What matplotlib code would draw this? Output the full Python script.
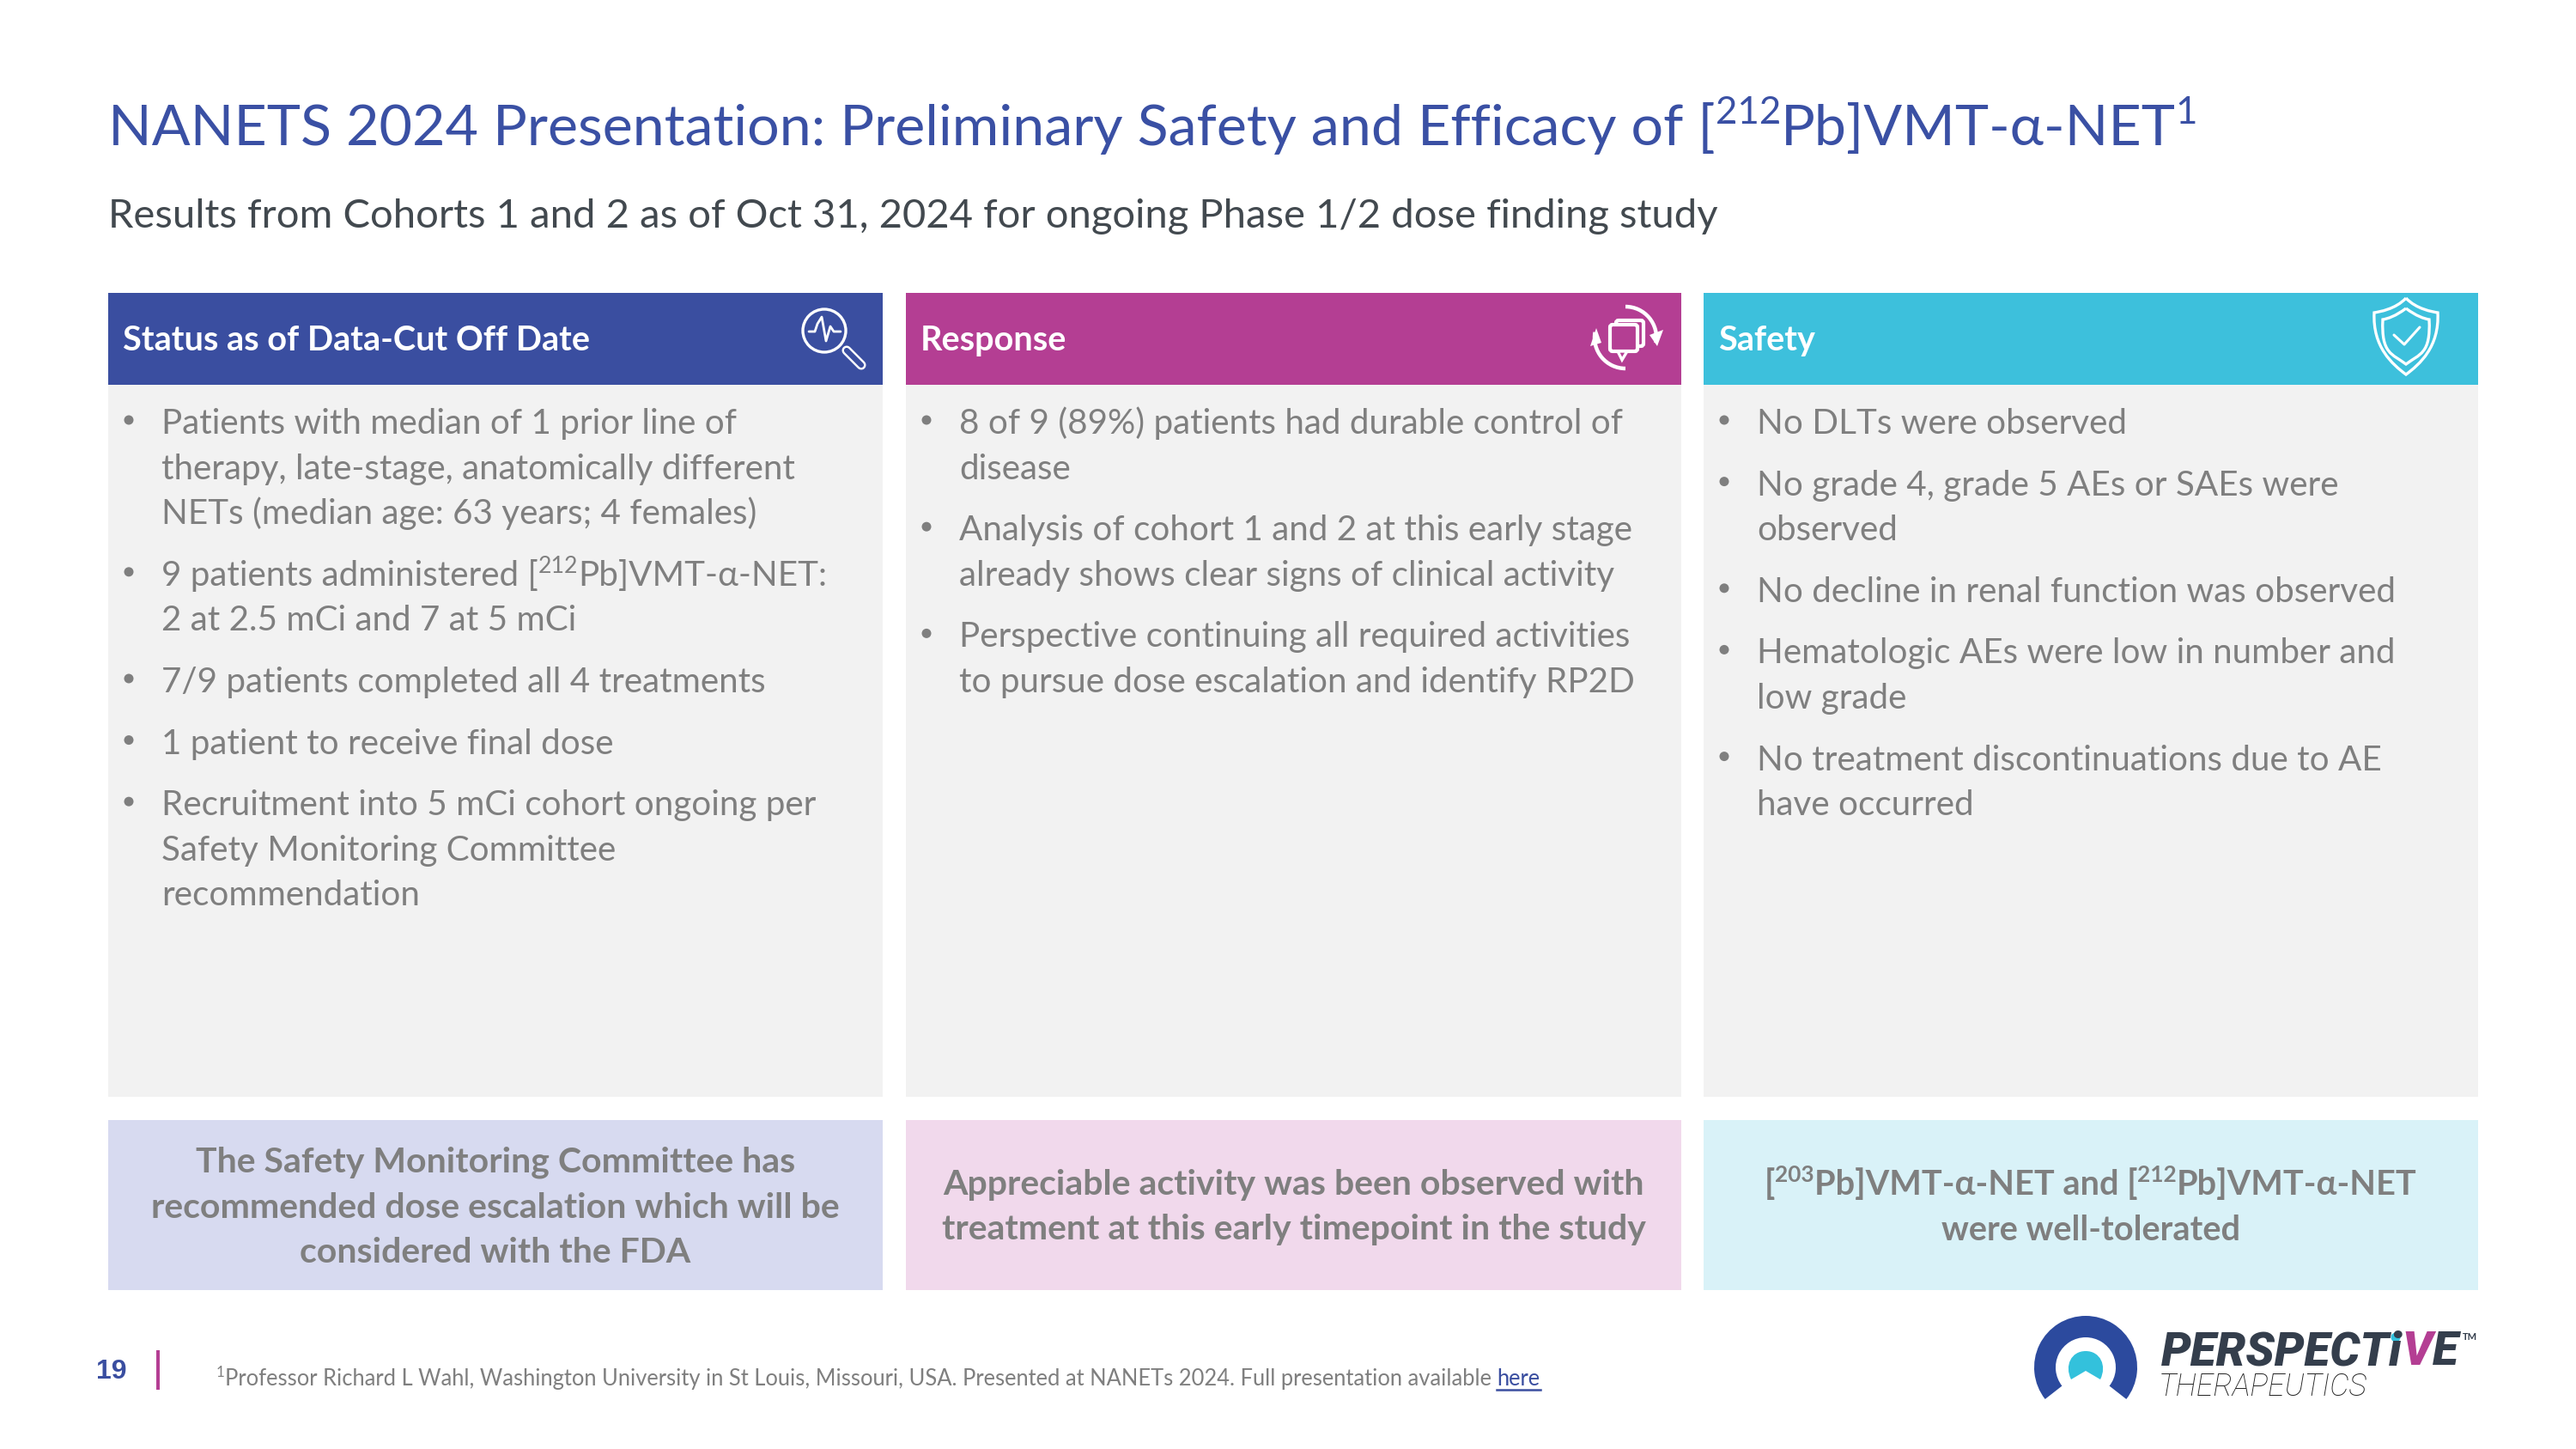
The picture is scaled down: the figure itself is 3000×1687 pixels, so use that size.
import matplotlib
matplotlib.use("Agg")
import matplotlib.pyplot as plt
from matplotlib.patches import Rectangle, Circle, Wedge, PathPatch, FancyBboxPatch, Polygon, Arc
from matplotlib.path import Path

TITLE = [("NANETS 2024 Presentation: Preliminary Safety and Efficacy of [", 0), ("212", 1), ("Pb]VMT-\u03b1-NET", 0), ("1", 1)]
SUBTITLE = "Results from Cohorts 1 and 2 as of Oct 31, 2024 for ongoing Phase 1/2 dose finding study"
HEADERS = ["Status as of Data-Cut Off Date", "Response", "Safety"]

COL1 = [
    [["Patients with median of 1 prior line of"], ["therapy, late-stage, anatomically different"], ["NETs (median age: 63 years; 4 females)"]],
    [["9 patients administered [", ("212", 1), "Pb]VMT-\u03b1-NET:"], ["2 at 2.5 mCi and 7 at 5 mCi"]],
    [["7/9 patients completed all 4 treatments"]],
    [["1 patient to receive final dose"]],
    [["Recruitment into 5 mCi cohort ongoing per"], ["Safety Monitoring Committee"], ["recommendation"]],
]
COL2 = [
    [["8 of 9 (89%) patients had durable control of"], ["disease"]],
    [["Analysis of cohort 1 and 2 at this early stage"], ["already shows clear signs of clinical activity"]],
    [["Perspective continuing all required activities"], ["to pursue dose escalation and identify RP2D"]],
]
COL3 = [
    [["No DLTs were observed"]],
    [["No grade 4, grade 5 AEs or SAEs were"], ["observed"]],
    [["No decline in renal function was observed"]],
    [["Hematologic AEs were low in number and"], ["low grade"]],
    [["No treatment discontinuations due to AE"], ["have occurred"]],
]
NOTES = [
    [["The Safety Monitoring Committee has"], ["recommended dose escalation which will be"], ["considered with the FDA"]],
    [["Appreciable activity was been observed with"], ["treatment at this early timepoint in the study"]],
    [["[", ("203", 1), "Pb]VMT-\u03b1-NET and [", ("212", 1), "Pb]VMT-\u03b1-NET"], ["were well-tolerated"]],
]
FOOTNOTE = "Professor Richard L Wahl, Washington University in St Louis, Missouri, USA. Presented at NANETs 2024. Full presentation available "

BLUE = "#3A4EA0"
MAGENTA = "#B43E93"
CYAN = "#3DC0DC"
GRAY = "#7F7F7F"
FONT = ["Lato", "DejaVu Sans"]

fig = plt.figure(figsize=(30, 16.87), dpi=100)
ax = fig.add_axes([0, 0, 1, 1])
ax.set_xlim(0, 3000)
ax.set_ylim(1687, 0)
ax.axis("off")
renderer = fig.canvas.get_renderer()


def run_text(x, y, parts, size, color, weight="normal", center=False):
    # draws a line made of normal and superscript pieces, returns end x
    parts = [p if isinstance(p, tuple) else (p, 0) for p in parts]
    items = []
    total = 0
    for s, sup in parts:
        fs = size * 0.66 if sup else size
        dy = -size * 0.52 if sup else 0
        t = ax.text(x, y + dy, s, fontsize=fs, color=color, fontweight=weight,
                    family=FONT, va="baseline", ha="left")
        w, _, _ = renderer.get_text_width_height_descent(s, t.get_fontproperties(), False)
        items.append((t, w))
        total += w
    cur = x - total / 2 if center else x
    for t, w in items:
        t.set_x(cur)
        cur += w
    return cur


panels = [(126, 1028), (1055, 1958), (1984, 2886)]
head_cols = [BLUE, MAGENTA, CYAN]
note_cols = ["#D7DAF0", "#F1D9EC", "#D9F2F8"]
for (x0, x1), hc, nc, head in zip(panels, head_cols, note_cols, HEADERS):
    ax.add_patch(Rectangle((x0, 341), x1 - x0, 107, fc=hc, ec="none"))
    ax.add_patch(Rectangle((x0, 448), x1 - x0, 829, fc="#F2F2F2", ec="none"))
    ax.add_patch(Rectangle((x0, 1304), x1 - x0, 198, fc=nc, ec="none"))
    ax.text(x0 + 17, 408, head, fontsize=28.5, fontweight="bold", color="white", family=FONT, va="baseline")

# title block
run_text(126, 169, TITLE, 47.8, "#3A50A4")
ax.text(126, 265, SUBTITLE, fontsize=33.9, color="#42494F", family=FONT, va="baseline")

# body columns
for col, (x0, x1) in zip([COL1, COL2, COL3], panels):
    y = 505
    for para in col:
        ax.add_patch(Circle((x0 + 24, y - 16), 5.5, fc=GRAY, ec="none"))
        for line in para:
            run_text(x0 + 62, y, line, 29.1, GRAY)
            y += 52.6
        y += 19

# callouts
for note, (x0, x1), fs in zip(NOTES, panels, [29.5, 29.5, 28.6]):
    y = 1404 - (len(note) - 1) * 26
    for line in note:
        run_text((x0 + x1) / 2, y + 13, line, fs, GRAY, weight="bold", center=True)
        y += 52.5

# footer
ax.text(112, 1605, "19", fontsize=23, fontweight="bold", color=BLUE, family="Liberation Sans", va="baseline")
ax.add_patch(Rectangle((182, 1572), 4, 46, fc=MAGENTA, ec="none"))
end = run_text(252, 1613, [("1", 1), FOOTNOTE], 18.4, GRAY)
here = ax.text(end, 1613, "here", fontsize=18.4, color=BLUE, family=FONT, va="baseline")
hw = renderer.get_text_width_height_descent("here", here.get_fontproperties(), False)[0]
ax.plot([end, end + hw], [1618, 1618], color=BLUE, lw=1.8)


def wline(xs, ys, lw=2.6):
    ax.plot(xs, ys, color="white", lw=lw, solid_capstyle="round", solid_joinstyle="round")


# magnifier icon
ax.add_patch(Circle((960, 385), 25, fc="none", ec="white", lw=2.4))
wline([942, 949, 952, 957, 962, 967, 971, 979], [386, 386, 377, 369, 397, 380, 386, 386], 2)
ax.plot([986, 1003], [408, 425], color="white", lw=8, solid_capstyle="round")
ax.plot([986, 1003], [408, 425], color=BLUE, lw=4.5, solid_capstyle="round")

# response icon
ax.add_patch(Arc((1893, 393), 72, 72, theta1=270, theta2=370, ec="white", lw=3.2))
ax.add_patch(Arc((1893, 393), 72, 72, theta1=90, theta2=190, ec="white", lw=3.2))
ax.add_patch(Polygon([[1921, 390], [1937, 384], [1930, 403]], fc="white", ec="none"))
ax.add_patch(Polygon([[1852, 403], [1865, 399], [1859, 382]], fc="white", ec="none"))
ax.add_patch(FancyBboxPatch((1882, 373), 32, 30, boxstyle="round,pad=0,rounding_size=3", fc=MAGENTA, ec="white", lw=3))
ax.add_patch(FancyBboxPatch((1875, 378), 32, 31, boxstyle="round,pad=0,rounding_size=3", fc=MAGENTA, ec="white", lw=3))
ax.add_patch(Polygon([[1884, 409], [1889, 419], [1895, 409]], fc=MAGENTA, ec="white", lw=2.4))

# shield icon
def shield(top, side, sy, low, lw=2.4):
    cx = 2802
    verts = [(cx, top), (cx - 12, sy - 4), (cx - side + 6, sy - 1), (cx - side, sy),
             (cx - side - 2, sy + 40), (cx - 16, low - 12), (cx, low),
             (cx + 16, low - 12), (cx + side + 2, sy + 40), (cx + side, sy),
             (cx + side - 6, sy - 1), (cx + 12, sy - 4), (cx, top)]
    codes = [Path.MOVETO] + [Path.CURVE4] * 12
    ax.add_patch(PathPatch(Path(verts, codes), fc="none", ec="white", lw=lw))


shield(347, 37, 364, 436)
shield(359, 27, 372, 424)
wline([2788, 2800, 2818], [390, 401, 381], 2.2)

# logo
ax.add_patch(Wedge((2429, 1592), 60, 142, 398, width=25, fc="#2C4A9E", ec="none"))
dome = [(2412, 1606), (2404, 1590), (2412, 1573), (2429, 1573), (2446, 1573), (2454, 1590), (2446, 1606), (2429, 1596), (2412, 1606)]
dome_codes = [Path.MOVETO, Path.CURVE4, Path.CURVE4, Path.CURVE4, Path.CURVE4, Path.CURVE4, Path.CURVE4, Path.LINETO, Path.LINETO]
ax.add_patch(PathPatch(Path(dome, dome_codes), fc="#33C1DC", ec="none"))
cur = 2517
for s, c in [("PERSPECTi", "#343E4C"), ("V", MAGENTA), ("E", "#343E4C")]:
    t = ax.text(cur, 1589, s, fontsize=39.6, fontweight="heavy", style="italic", color=c, family="Roboto", va="baseline")
    cur += renderer.get_text_width_height_descent(s, t.get_fontproperties(), False)[0]
ax.add_patch(Circle((2790, 1557), 5.5, fc="#33C1DC", ec="none"))
ax.text(2868, 1560, "TM", fontsize=8, fontweight="bold", color="#343E4C", family="Lato", va="baseline")
ax.text(2514, 1625, "THERAPEUTICS", fontsize=25.6, style="italic", color="#222222", family="Roboto", fontweight="light", va="baseline")

fig.savefig("out.png", dpi=100)
